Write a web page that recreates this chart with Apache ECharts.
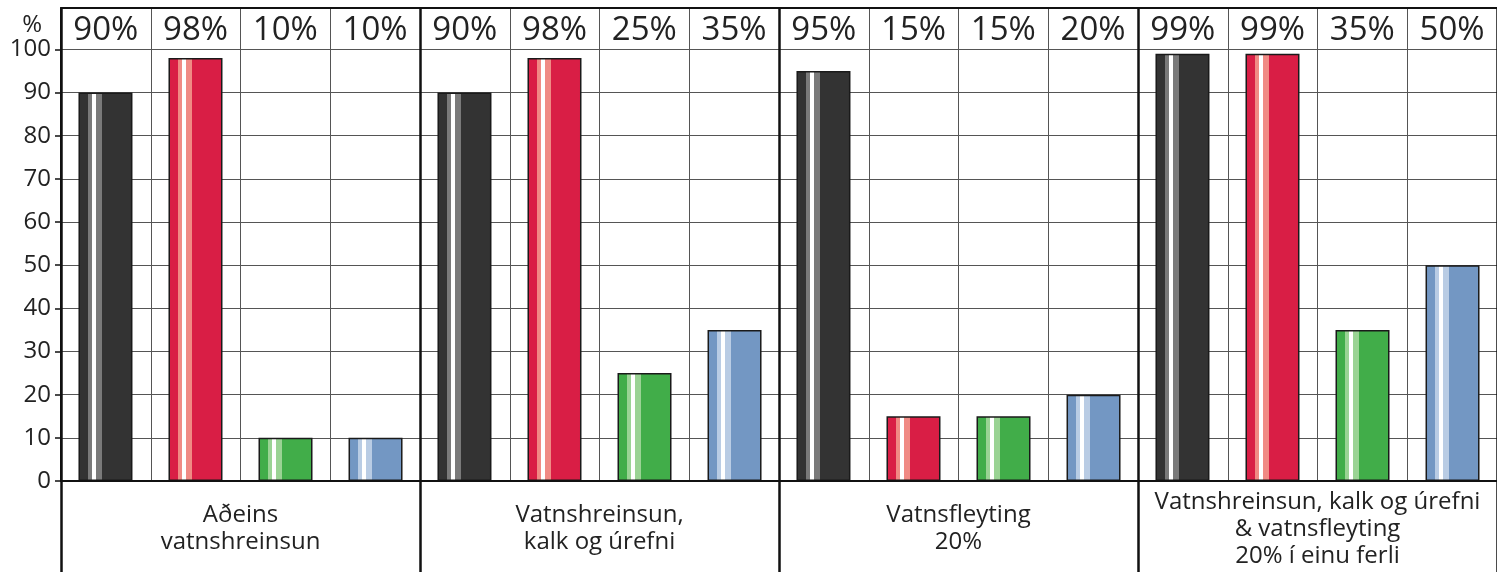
<!DOCTYPE html>
<html>
<head>
<meta charset="utf-8">
<script src="https://cdn.jsdelivr.net/npm/echarts@6/dist/echarts.min.js"></script>
<style>
html,body{margin:0;padding:0;background:#fff;}
#chart{width:1497px;height:572px;}
</style>
</head>
<body>
<div id="chart"></div>
<script>
const groups = [
  'Aðeins\nvatnshreinsun',
  'Vatnshreinsun,\nkalk og úrefni',
  'Vatnsfleyting\n20%',
  'Vatnshreinsun, kalk og úrefni\n& vatnsfleyting\n20% í einu ferli'
];
const darkValues  = [90, 90, 95, 99];
const redValues   = [98, 98, 15, 99];
const greenValues = [10, 25, 15, 35];
const blueValues  = [10, 35, 20, 50];
const yTicks = [0, 10, 20, 30, 40, 50, 60, 70, 80, 90, 100];

const FONT = '"Open Sans", "Noto Sans", sans-serif';

function stripe(base, light) {
  return {
    type: 'linear', x: 0, y: 0, x2: 1, y2: 0,
    colorStops: [
      {offset: 0, color: base}, {offset: 0.18, color: base},
      {offset: 0.18, color: light}, {offset: 0.25, color: light},
      {offset: 0.25, color: '#ffffff'}, {offset: 0.32, color: '#ffffff'},
      {offset: 0.32, color: light}, {offset: 0.43, color: light},
      {offset: 0.43, color: base}, {offset: 1, color: base}
    ]
  };
}

const seriesDefs = [
  {name: 'dark',  values: darkValues,  base: '#333333', light: '#7a7a7a'},
  {name: 'red',   values: redValues,   base: '#d91e45', light: '#f08a84'},
  {name: 'green', values: greenValues, base: '#41ad49', light: '#9ad394'},
  {name: 'blue',  values: blueValues,  base: '#7397c3', light: '#b9cce4'}
];

// header labels (one per column), derived from values
const headerLabels = [];
groups.forEach((g, gi) => {
  seriesDefs.forEach(s => headerLabels.push(s.values[gi] + '%'));
});

const chart = echarts.init(document.getElementById('chart'), null, {renderer: 'canvas'});
chart.setOption({
  animation: false,
  backgroundColor: '#ffffff',
  textStyle: {fontFamily: FONT},
  grid: {left: 61, right: -3, top: 8, bottom: 91, containLabel: false},
  xAxis: [
    {
      type: 'category',
      position: 'bottom',
      data: groups,
      boundaryGap: true,
      axisLine: {show: true, onZero: false, lineStyle: {color: '#111', width: 2}},
      axisTick: {show: true, interval: 0, length: 91, alignWithLabel: false, lineStyle: {color: '#111', width: 2.5}},
      axisLabel: {
        show: true, interval: 0, margin: 48, verticalAlign: 'middle', align: 'center',
        fontSize: 24, lineHeight: 27, color: '#222', fontFamily: FONT
      },
      splitLine: {show: true, interval: 0, lineStyle: {color: '#111', width: 2.5}},
      z: 5
    },
    {
      type: 'category',
      position: 'top',
      data: headerLabels,
      boundaryGap: true,
      axisLine: {show: true, onZero: false, lineStyle: {color: '#111', width: 2}},
      axisTick: {show: false},
      axisLabel: {
        show: true, inside: true, interval: 0, margin: 23, verticalAlign: 'middle',
        fontSize: 33, color: '#222', fontFamily: FONT
      },
      splitLine: {show: true, interval: 0, lineStyle: {color: '#555', width: 1}}
    }
  ],
  yAxis: {
    type: 'value',
    min: 0,
    max: 109.6,
    interval: 10,
    name: '%',
    nameLocation: 'end',
    nameGap: -19,
    nameTextStyle: {fontSize: 24, color: '#222', align: 'right', verticalAlign: 'middle', padding: [0, 19, 0, 0], fontFamily: FONT},
    axisLine: {show: true, lineStyle: {color: '#111', width: 2}},
    axisTick: {show: true, length: 6, customValues: yTicks, lineStyle: {color: '#111', width: 1.5}},
    axisLabel: {show: true, customValues: yTicks, margin: 10, fontSize: 24, color: '#222', fontFamily: FONT},
    splitLine: {show: true, lineStyle: {color: '#555', width: 1}}
  },
  series: seriesDefs.map(s => ({
    type: 'bar',
    name: s.name,
    xAxisIndex: 0,
    data: s.values,
    barWidth: 54,
    barGap: '66.7%',
    itemStyle: {color: stripe(s.base, s.light), borderColor: '#1a1a1a', borderWidth: 1.5},
    z: 3
  }))
});
</script>
</body>
</html>
